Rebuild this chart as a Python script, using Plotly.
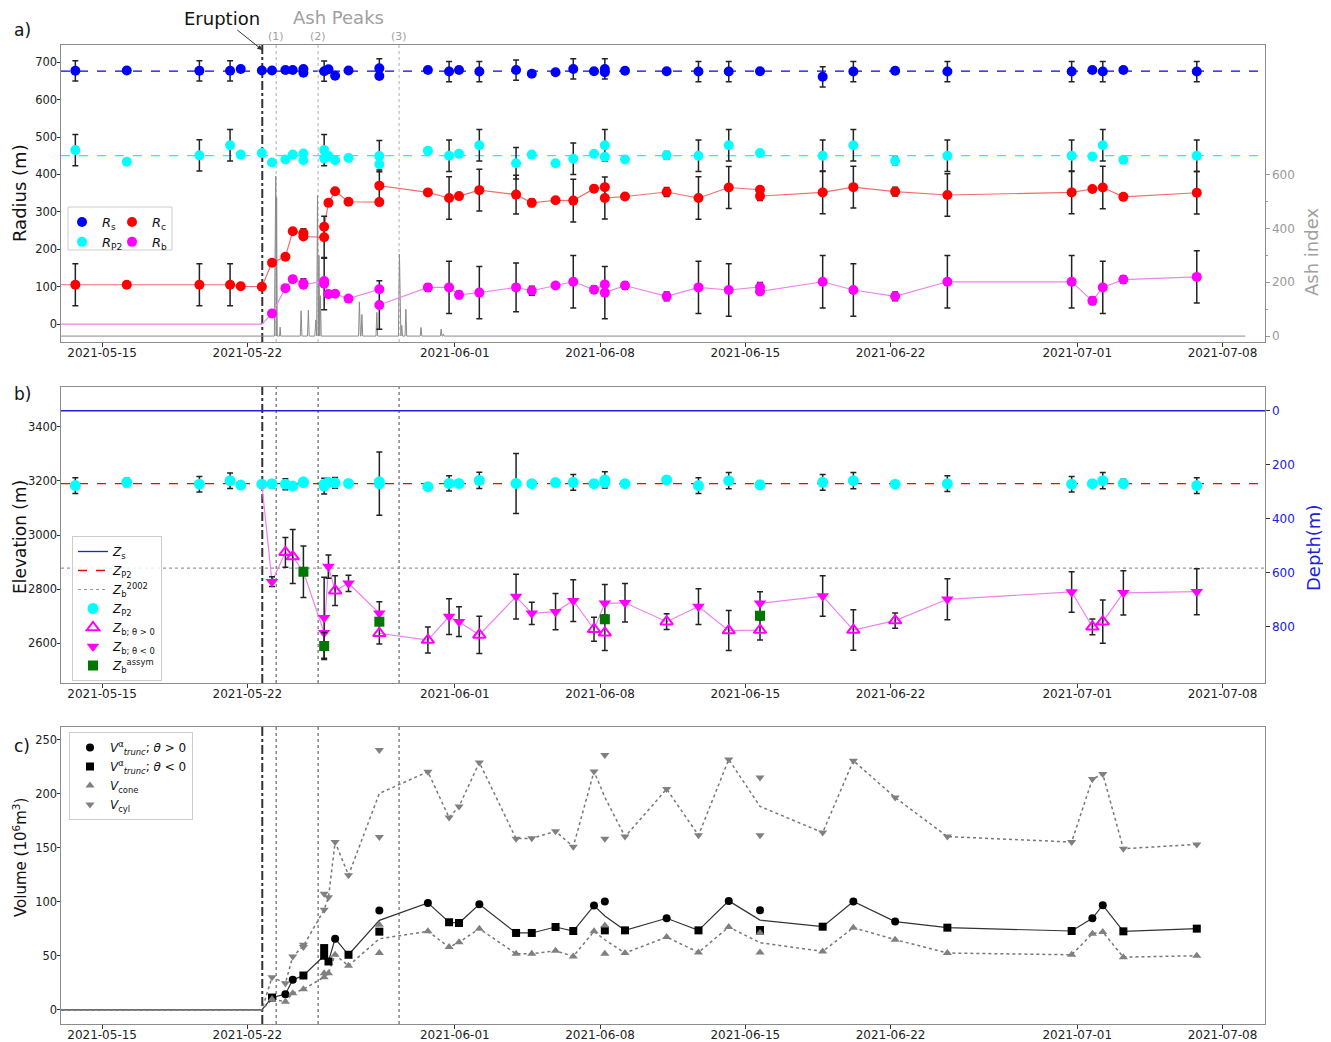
import plotly.graph_objects as go

def T(lst):
    return ["2021-" + s for s in lst]

# ---------------- axes / events ----------------
X_RANGE = ["2021-05-13 00:25", "2021-07-10 01:10"]
X_TICKS = ["2021-05-15", "2021-05-22", "2021-06-01", "2021-06-08",
           "2021-06-15", "2021-06-22", "2021-07-01", "2021-07-08"]
ERUPTION = "2021-05-22 17:15"
ASH_PEAKS = ["2021-05-23 09:20", "2021-05-25 09:50", "2021-05-29 07:30"]
ASH_PEAK_LABELS = ["(1)", "(2)", "(3)"]

# ---------------- panel a ----------------
Rs_mean = 676
Rp2_mean = 450

Rs_t = ["05-13 17:00","05-16 04:30","05-19 16:30","05-21 04:00","05-21 16:20","05-22 16:45","05-23 04:30","05-23 20:00","05-24 04:30","05-24 16:50","05-24 16:50","05-25 16:50","05-25 21:50","05-26 05:30","05-26 21:00","05-28 08:40","05-28 08:40","05-30 16:50","05-31 17:20","06-01 04:50","06-02 04:20","06-03 22:50","06-04 17:00","06-05 20:30","06-06 17:00","06-07 17:00","06-08 05:30","06-08 05:30","06-09 04:50","06-11 05:00","06-12 17:50","06-14 04:50","06-15 17:00","06-18 17:30","06-20 05:00","06-22 05:20","06-24 17:45","06-30 17:30","07-01 17:30","07-02 05:30","07-03 05:20","07-06 18:15"]
Rs_v = [677,678,677,677,682,678,678,679,679,682,672,676,681,664,678,684,663,679,675,679,675,679,669,673,682,676,682,673,677,676,675,675,676,661,675,677,675,675,679,675,679,675]
Rs_e = [27,0,27,27,0,0,0,0,0,0,0,27,0,0,0,25,0,0,27,0,27,27,0,0,27,0,27,0,0,0,27,27,0,27,27,0,27,27,0,27,0,27]

Rp2_t = ["05-13 17:00","05-16 04:30","05-19 16:30","05-21 04:00","05-21 16:20","05-22 16:45","05-23 04:30","05-23 20:00","05-24 04:30","05-24 16:50","05-24 16:50","05-25 16:50","05-25 16:50","05-25 21:50","05-26 05:30","05-26 21:00","05-28 08:40","05-28 08:40","05-30 16:50","05-31 17:20","06-01 04:50","06-02 04:20","06-03 22:50","06-04 17:00","06-05 20:30","06-06 17:00","06-07 17:00","06-08 05:30","06-08 05:30","06-09 04:50","06-11 05:00","06-12 17:50","06-14 04:50","06-15 17:00","06-18 17:30","06-20 05:00","06-22 05:20","06-24 17:45","06-30 17:30","07-01 17:30","07-02 05:30","07-03 05:20","07-06 18:15"]
Rp2_v = [465,434,451,478,453,457,432,440,453,456,438,465,443,449,438,444,449,427,463,450,455,478,430,453,430,442,455,478,447,440,451,450,478,457,450,478,436,450,450,448,478,439,450]
Rp2_e = [42,0,42,42,0,0,0,0,0,0,0,42,0,0,0,0,42,0,0,42,0,42,42,0,0,42,0,42,0,0,10,42,42,8,42,42,10,42,42,0,42,0,42]

Rc_t = ["05-08 17:00","05-13 17:00","05-16 04:30","05-19 16:30","05-21 04:00","05-21 16:20","05-22 16:45","05-23 04:30","05-23 20:00","05-24 04:30","05-24 16:50","05-24 16:50","05-25 16:50","05-25 16:50","05-25 21:50","05-26 05:30","05-26 21:00","05-28 08:40","05-28 08:40","05-30 16:50","05-31 17:20","06-01 04:50","06-02 04:20","06-03 22:50","06-04 17:00","06-05 20:30","06-06 17:00","06-07 17:00","06-08 05:30","06-08 05:30","06-09 04:50","06-11 05:00","06-12 17:50","06-14 04:50","06-15 17:00","06-15 17:00","06-18 17:30","06-20 05:00","06-22 05:20","06-24 17:45","06-30 17:30","07-01 17:30","07-02 05:30","07-03 05:20","07-06 18:15"]
Rc_v = [105,105,105,105,105,101,100,164,180,248,243,234,232,260,324,355,327,326,370,352,337,342,358,346,324,331,330,362,366,337,341,353,337,365,359,342,352,366,354,345,352,361,365,340,351]
Rc_e = [56,56,0,56,56,0,0,0,0,0,12,0,56,0,0,0,0,0,42,0,57,0,56,52,10,0,57,0,0,56,0,12,57,56,0,12,57,56,12,57,57,0,57,0,57]

Rb_pre_t = ["05-08 17:00","05-22 16:45","05-23 04:30"]
Rb_pre_v = [0,0,28]
Rb_t = ["05-23 04:30","05-23 20:00","05-24 04:30","05-24 16:50","05-24 16:50","05-25 16:50","05-25 16:50","05-25 21:50","05-26 05:30","05-26 21:00","05-28 08:40","05-28 08:40","05-30 16:50","05-31 17:20","06-01 04:50","06-02 04:20","06-03 22:50","06-04 17:00","06-05 20:30","06-06 17:00","06-07 17:00","06-08 05:30","06-08 05:30","06-09 04:50","06-11 05:00","06-12 17:50","06-14 04:50","06-15 17:00","06-15 17:00","06-18 17:30","06-20 05:00","06-22 05:20","06-24 17:45","06-30 17:30","07-01 17:30","07-02 05:30","07-03 05:20","07-06 18:15"]
Rb_v = [28,96,120,109,105,115,108,80,81,68,93,51,98,98,78,84,98,89,103,113,92,106,84,103,74,98,91,99,87,113,91,74,113,113,62,98,119,126]
Rb_e = [8,0,0,12,0,0,70,0,0,0,0,65,10,70,10,70,65,12,0,70,10,0,70,10,12,70,70,12,0,70,70,12,70,70,10,70,10,70]

ash_t = ["05-08 00:00","05-23 07:12","05-23 08:53","05-23 09:22","05-23 09:50","05-23 10:34","05-23 13:12","05-23 13:55","05-23 14:38","05-24 13:12","05-24 14:10","05-24 15:07","05-24 21:36","05-24 22:34","05-24 23:31","05-25 06:00","05-25 07:12","05-25 08:10","05-25 09:07","05-25 10:05","05-25 10:48","05-25 11:46","05-25 12:29","05-25 13:26","05-27 08:38","05-27 09:36","05-27 10:48","05-27 11:31","05-27 12:29","05-27 13:26","05-28 04:48","05-28 05:46","05-28 06:43","05-29 06:43","05-29 07:55","05-29 09:07","05-29 09:36","05-29 10:34","05-29 11:31","05-29 14:24","05-29 15:22","05-29 16:19","05-30 07:55","05-30 08:53","05-30 09:50","05-31 07:12","05-31 08:10","05-31 09:07","05-31 10:05","05-31 10:48","05-31 11:46","07-09 02:24"]
ash_v = [0,0,594,0,515,0,0,33,0,0,94,0,0,96,0,0,60,0,522,0,300,0,150,0,0,127,0,0,80,0,0,88,0,0,304,0,0,40,0,0,100,0,0,32,0,0,26,0,0,8,0,0]

# ---------------- panel b ----------------
Zs = 3460
Zp2_ref = 3190
Zb2002 = 2877

Zp2_t = Rp2_t
Zp2_v = [3183,3195,3188,3201,3185,3188,3190,3188,3181,3194,3197,3181,3188,3195,3193,3191,3190,3197,3179,3191,3191,3202,3191,3190,3194,3195,3190,3204,3194,3190,3204,3183,3201,3186,3195,3201,3188,3190,3188,3190,3201,3191,3183]
Zp2_e = [29,15,29,29,0,0,15,20,0,12,0,29,0,0,20,0,117,0,0,28,12,30,111,12,0,29,0,30,0,12,0,29,30,10,29,30,0,29,29,0,30,15,29]

ZbPos_t = ["05-23 20:00","05-24 04:30","05-26 05:30","05-28 08:40","05-30 16:50","06-02 04:20","06-07 17:00","06-08 05:30","06-11 05:00","06-14 04:50","06-15 17:00","06-20 05:00","06-22 05:20","07-01 17:30","07-02 05:30"]
ZbPos_v = [2936,2920,2794,2636,2611,2630,2651,2638,2679,2646,2648,2648,2683,2660,2679]
ZbPos_e = [55,100,55,40,48,69,44,66,29,74,37,75,28,29,80]

ZbNeg_t = ["05-23 04:30","05-25 16:50","05-25 16:50","05-25 21:50","05-26 21:00","05-28 08:40","05-31 17:20","06-01 04:50","06-03 22:50","06-04 17:00","06-05 20:30","06-06 17:00","06-08 05:30","06-09 04:50","06-12 17:50","06-15 17:00","06-18 17:30","06-24 17:45","06-30 17:30","07-03 05:20","07-06 18:15"]
ZbNeg_v = [2827,2694,2638,2883,2821,2710,2698,2679,2772,2710,2716,2757,2747,2749,2735,2747,2774,2762,2789,2786,2790]
ZbNeg_e = [18,150,0,43,30,43,66,55,83,41,67,77,70,71,66,43,75,76,75,82,85]

ZbAs_t = ["05-24 16:50","05-25 16:50","05-28 08:40","06-08 05:30","06-15 17:00"]
ZbAs_v = [2864,2589,2679,2688,2701]
ZbAs_e = [95,50,0,0,0]

Zb_line_t = ["05-22 16:45","05-23 04:30","05-23 20:00","05-24 04:30","05-24 16:50","05-25 16:50","05-25 21:50","05-26 05:30","05-26 21:00","05-28 08:40","05-28 08:40","05-30 16:50","05-31 17:20","06-01 04:50","06-02 04:20","06-03 22:50","06-04 17:00","06-05 20:30","06-06 17:00","06-07 17:00","06-08 05:30","06-09 04:50","06-11 05:00","06-12 17:50","06-14 04:50","06-15 17:00","06-15 17:00","06-18 17:30","06-20 05:00","06-22 05:20","06-24 17:45","06-30 17:30","07-01 17:30","07-02 05:30","07-03 05:20","07-06 18:15"]
Zb_line_v = [3188,2827,2936,2920,2864,2638,2883,2794,2821,2710,2636,2611,2698,2679,2630,2772,2710,2716,2757,2651,2747,2749,2679,2735,2646,2648,2747,2774,2648,2683,2762,2789,2660,2679,2786,2790]

# ---------------- panel c ----------------
VtP_t = ["05-23 20:00","05-24 04:30","05-26 05:30","05-28 08:40","05-30 16:50","06-02 04:20","06-07 17:00","06-08 05:30","06-11 05:00","06-14 04:50","06-15 17:00","06-20 05:00","06-22 05:20","07-01 17:30","07-02 05:30"]
VtP_v = [14.6,27.9,66,92,99.1,97.9,96.7,100.4,84.9,101,92.3,100.4,81.8,84.9,97]
VtN_t = ["05-23 04:30","05-24 16:50","05-25 16:50","05-25 16:50","05-25 21:50","05-26 21:00","05-28 08:40","05-31 17:20","06-01 04:50","06-03 22:50","06-04 17:00","06-05 20:30","06-06 17:00","06-08 05:30","06-09 04:50","06-12 17:50","06-15 17:00","06-18 17:30","06-24 17:45","06-30 17:30","07-03 05:20","07-06 18:15"]
VtN_v = [11.5,31.9,57.3,50.2,44.9,51.1,72.5,81.2,80.5,71.3,71.3,76.8,73.1,73.7,73.7,73.7,74,77.1,76.2,73.1,72.8,75.3]

Vcone_t = ["05-23 04:30","05-23 20:00","05-24 04:30","05-24 16:50","05-25 16:50","05-25 16:50","05-25 21:50","05-26 05:30","05-26 21:00","05-28 08:40","05-28 08:40","05-30 16:50","05-31 17:20","06-01 04:50","06-02 04:20","06-03 22:50","06-04 17:00","06-05 20:30","06-06 17:00","06-07 17:00","06-08 05:30","06-08 05:30","06-09 04:50","06-11 05:00","06-12 17:50","06-14 04:50","06-15 17:00","06-15 17:00","06-18 17:30","06-20 05:00","06-22 05:20","06-24 17:45","06-30 17:30","07-01 17:30","07-02 05:30","07-03 05:20","07-06 18:15"]
Vcone_v = [9.9,7.7,15.5,19.2,30.4,34.1,34.1,51.1,40.9,79,52.7,72.8,58.2,62.6,75.3,52,52,54.8,49.6,72.8,78.1,52,52.7,67.5,53.3,76.8,71.3,53.3,54.2,76.2,65.1,52.7,51.1,70.6,72.2,48.9,50.2]
Vcyl_t = ["05-23 04:30","05-23 20:00","05-24 04:30","05-24 16:50","05-24 16:50","05-25 16:50","05-25 16:50","05-25 21:50","05-26 05:30","05-26 21:00","05-28 08:40","05-28 08:40","05-30 16:50","05-31 17:20","06-01 04:50","06-02 04:20","06-03 22:50","06-04 17:00","06-05 20:30","06-06 17:00","06-07 17:00","06-08 05:30","06-08 05:30","06-09 04:50","06-11 05:00","06-12 17:50","06-14 04:50","06-15 17:00","06-15 17:00","06-18 17:30","06-20 05:00","06-22 05:20","06-24 17:45","06-30 17:30","07-01 17:30","07-02 05:30","07-03 05:20","07-06 18:15"]
Vcyl_v = [30.4,24.8,49.6,60.4,58.2,107.5,92.9,104.4,155.5,124.8,240.7,160.2,220.6,178.1,188.4,229.2,158.6,158.9,165.4,151.2,220.9,236,158.6,160.5,204.5,161.7,232,215.3,161.7,164.2,230.8,196.7,160.5,155.5,213.8,218.4,149.3,153.3]

Vline_t = ["05-08 17:00","05-22 16:45","05-23 04:30","05-23 20:00","05-24 04:30","05-24 16:50","05-25 16:50","05-25 21:50","05-26 05:30","05-26 21:00","05-28 08:40","05-30 16:50","05-31 17:20","06-01 04:50","06-02 04:20","06-03 22:50","06-04 17:00","06-05 20:30","06-06 17:00","06-07 17:00","06-08 05:30","06-09 04:50","06-11 05:00","06-12 17:50","06-14 04:50","06-15 17:00","06-18 17:30","06-20 05:00","06-22 05:20","06-24 17:45","06-30 17:30","07-01 17:30","07-02 05:30","07-03 05:20","07-06 18:15"]
Vt_line = [0,0,11.5,14.6,27.9,31.9,50.2,44.9,66,51.1,83,99.1,81.2,80.5,97.9,71.3,71.3,76.8,73.1,96.7,87,73.7,84.9,73.7,101,83.2,77.1,100.4,81.8,76.2,73.1,84.9,97,72.8,75.3]
Vcone_line = [0,0,9.9,7.7,15.5,19.2,30.4,34.1,51.1,40.9,65.9,72.8,58.2,62.6,75.3,52,52,54.8,49.6,72.8,65,52.7,67.5,53.3,76.8,62.3,54.2,76.2,65.1,52.7,51.1,70.6,72.2,48.9,50.2]
Vcyl_line = [0,0,30.4,24.8,49.6,59.3,92.9,104.4,155.5,124.8,200.5,220.6,178.1,188.4,229.2,158.6,158.9,165.4,151.2,220.9,197,160.5,204.5,161.7,232,188.5,164.2,230.8,196.7,160.5,155.5,213.8,218.4,149.3,153.3]

# ---------------- styling helpers ----------------
FONT = "DejaVu Sans"
ERRC = "#222222"

def err(arr):
    return dict(type="data", array=arr, color=ERRC, thickness=1.5, width=3)

fig = go.Figure()

# panel a: ash index (base axis y, right side)
fig.add_trace(go.Scatter(x=T(ash_t), y=ash_v, mode="lines", line=dict(color="#8a8a8a", width=1),
                         xaxis="x", yaxis="y", showlegend=False, hoverinfo="skip"))
# panel a: connecting lines
fig.add_trace(go.Scatter(x=T(Rb_pre_t), y=Rb_pre_v, mode="lines", line=dict(color="#ee82ee", width=1.2),
                         xaxis="x", yaxis="y2", showlegend=False, hoverinfo="skip"))
fig.add_trace(go.Scatter(x=T(Rc_t), y=Rc_v, mode="lines", line=dict(color="rgba(240,60,60,0.75)", width=1.2),
                         xaxis="x", yaxis="y2", showlegend=False, hoverinfo="skip"))
fig.add_trace(go.Scatter(x=T(Rb_t), y=Rb_v, mode="lines", line=dict(color="#ee82ee", width=1.2),
                         xaxis="x", yaxis="y2", showlegend=False, hoverinfo="skip"))
# panel a: radius markers (y2, left side)
fig.add_trace(go.Scatter(x=T(Rs_t), y=Rs_v, error_y=err(Rs_e), mode="markers",
                         marker=dict(color="#0000ff", size=10), name="<i>R</i><sub>s</sub>",
                         xaxis="x", yaxis="y2", legend="legend"))
fig.add_trace(go.Scatter(x=T(Rp2_t), y=Rp2_v, error_y=err(Rp2_e), mode="markers",
                         marker=dict(color="#00ffff", size=10), name="<i>R</i><sub>P2</sub>",
                         xaxis="x", yaxis="y2", legend="legend"))
fig.add_trace(go.Scatter(x=T(Rc_t), y=Rc_v, error_y=err(Rc_e), mode="markers",
                         marker=dict(color="#ff0000", size=10), name="<i>R</i><sub>c</sub>",
                         xaxis="x", yaxis="y2", legend="legend2"))
fig.add_trace(go.Scatter(x=T(Rb_t), y=Rb_v, error_y=err(Rb_e), mode="markers",
                         marker=dict(color="#ff00ff", size=10), name="<i>R</i><sub>b</sub>",
                         xaxis="x", yaxis="y2", legend="legend2"))

# panel b
fig.add_trace(go.Scatter(x=X_RANGE, y=[Zs, Zs], mode="lines", line=dict(color="#2020dd", width=1.3),
                         name="<i>Z</i><sub>s</sub>", xaxis="x2", yaxis="y3", legend="legend3"))
fig.add_trace(go.Scatter(x=X_RANGE, y=[Zp2_ref, Zp2_ref], mode="lines",
                         line=dict(color="#ff0000", width=1.3, dash="dash"),
                         name="<i>Z</i><sub>P2</sub>", xaxis="x2", yaxis="y3", legend="legend3"))
fig.add_trace(go.Scatter(x=X_RANGE, y=[Zb2002, Zb2002], mode="lines",
                         line=dict(color="#999999", width=1.2, dash="dot"),
                         name="<i>Z</i><sub>b</sub><sup>2002</sup>", xaxis="x2", yaxis="y3", legend="legend3"))
fig.add_trace(go.Scatter(x=T(Zp2_t), y=Zp2_v, error_y=err(Zp2_e), mode="markers",
                         marker=dict(color="#00ffff", size=11), name="<i>Z</i><sub>P2</sub>",
                         xaxis="x2", yaxis="y3", legend="legend3"))
fig.add_trace(go.Scatter(x=T(Zb_line_t), y=Zb_line_v, mode="lines", line=dict(color="#ee82ee", width=1.2),
                         xaxis="x2", yaxis="y3", showlegend=False, hoverinfo="skip"))
fig.add_trace(go.Scatter(x=T(ZbPos_t), y=ZbPos_v, error_y=err(ZbPos_e), mode="markers",
                         marker=dict(symbol="triangle-up-open", color="#ff00ff", size=11, line=dict(width=2)),
                         name="<i>Z</i><sub>b; θ &gt; 0</sub>", xaxis="x2", yaxis="y3", legend="legend3"))
fig.add_trace(go.Scatter(x=T(ZbNeg_t), y=ZbNeg_v, error_y=err(ZbNeg_e), mode="markers",
                         marker=dict(symbol="triangle-down", color="#ff00ff", size=11),
                         name="<i>Z</i><sub>b; θ &lt; 0</sub>", xaxis="x2", yaxis="y3", legend="legend3"))
fig.add_trace(go.Scatter(x=T(ZbAs_t), y=ZbAs_v, error_y=err(ZbAs_e), mode="markers",
                         marker=dict(symbol="square", color="#007700", size=10),
                         name="<i>Z</i><sub>b</sub><sup>assym</sup>", xaxis="x2", yaxis="y3", legend="legend3"))
# depth axis carrier (invisible)
fig.add_trace(go.Scatter(x=X_RANGE, y=[Zs - Zs, Zs - Zs], mode="lines", line=dict(width=0),
                         opacity=0, xaxis="x2", yaxis="y4", showlegend=False, hoverinfo="skip"))

# panel c
fig.add_trace(go.Scatter(x=T(Vline_t), y=Vt_line, mode="lines", line=dict(color="#333333", width=1.2),
                         xaxis="x3", yaxis="y5", showlegend=False, hoverinfo="skip"))
fig.add_trace(go.Scatter(x=T(Vline_t), y=Vcone_line, mode="lines", line=dict(color="#777777", width=1.5, dash="dot"),
                         xaxis="x3", yaxis="y5", showlegend=False, hoverinfo="skip"))
fig.add_trace(go.Scatter(x=T(Vline_t), y=Vcyl_line, mode="lines", line=dict(color="#777777", width=1.5, dash="dot"),
                         xaxis="x3", yaxis="y5", showlegend=False, hoverinfo="skip"))
fig.add_trace(go.Scatter(x=T(VtP_t), y=VtP_v, mode="markers", marker=dict(symbol="circle", color="#000000", size=8),
                         name="<i>V</i><sup>α</sup><sub><i>trunc</i></sub>; <i>θ</i> &gt; 0",
                         xaxis="x3", yaxis="y5", legend="legend4"))
fig.add_trace(go.Scatter(x=T(VtN_t), y=VtN_v, mode="markers", marker=dict(symbol="square", color="#000000", size=8),
                         name="<i>V</i><sup>α</sup><sub><i>trunc</i></sub>; <i>θ</i> &lt; 0",
                         xaxis="x3", yaxis="y5", legend="legend4"))
fig.add_trace(go.Scatter(x=T(Vcone_t), y=Vcone_v, mode="markers", marker=dict(symbol="triangle-up", color="#808080", size=8),
                         name="<i>V</i><sub>cone</sub>", xaxis="x3", yaxis="y5", legend="legend4"))
fig.add_trace(go.Scatter(x=T(Vcyl_t), y=Vcyl_v, mode="markers", marker=dict(symbol="triangle-down", color="#808080", size=8),
                         name="<i>V</i><sub>cyl</sub>", xaxis="x3", yaxis="y5", legend="legend4"))

# ---------------- layout ----------------
OFF = 8                      # default page margin of the html body
W, H = 1331 - OFF, 1042 - OFF
L, TOP = 61 - OFF, 45 - OFF
PW, PH = 1204, 979
R, BOT = W - L - PW, H - TOP - PH

def px(x):          # page pixel -> paper fraction
    return (x - OFF - L) / PW

def py(y):
    return (H - BOT - (y - OFF)) / PH

FRAME = "#8c8c8c"
xcommon = dict(type="date", range=X_RANGE, tickvals=X_TICKS, ticktext=X_TICKS,
               ticks="outside", ticklen=3.5, tickcolor="#333", showline=True, mirror=True,
               linecolor=FRAME, linewidth=1, showgrid=False, zeroline=False, automargin=False,
               ticklabelstandoff=-4, tickfont=dict(size=12, color="#222"))
ycommon = dict(ticks="outside", ticklen=3.5, tickcolor="#333", showline=True, mirror=True,
               linecolor=FRAME, linewidth=1, showgrid=False, zeroline=False, automargin=False,
               ticklabelstandoff=-3, tickfont=dict(size=11.5, color="#222"))

dom_a = [py(342), py(45)]
dom_b = [py(683), py(387)]
dom_c = [py(1024), py(727)]

fig.update_layout(
    width=W, height=H, autosize=False, margin=dict(l=L, r=R, t=TOP, b=BOT, pad=0),
    paper_bgcolor="white", plot_bgcolor="white",
    font=dict(family=FONT, size=12, color="#222"),
    xaxis=dict(xcommon, anchor="y", domain=[0, 1]),
    xaxis2=dict(xcommon, anchor="y3", domain=[0, 1]),
    xaxis3=dict(xcommon, anchor="y5", domain=[0, 1]),
    yaxis=dict(domain=dom_a, anchor="x", side="right", range=[-22, 1081], automargin=False,
               tickvals=[0, 200, 400, 600], ticks="outside", ticklen=3.5, tickcolor="#999",
               tickfont=dict(size=12, color="#999"), showline=True, mirror=True,
               linecolor=FRAME, showgrid=False, zeroline=False,
               minor=dict(tickvals=[100, 300, 500], ticks="outside", ticklen=2, tickcolor="#999")),
    yaxis2=dict(ycommon, overlaying="y", anchor="x", side="left", range=[-48, 746],
                tickvals=[0, 100, 200, 300, 400, 500, 600, 700], mirror=False, showline=False),
    yaxis3=dict(ycommon, domain=dom_b, anchor="x2", range=[2452, 3548],
                tickvals=[2600, 2800, 3000, 3200, 3400]),
    yaxis4=dict(overlaying="y3", anchor="x2", side="right", range=[1008, -88], automargin=False,
                tickvals=[0, 200, 400, 600, 800], ticks="outside", ticklen=3.5, tickcolor="#333",
                tickfont=dict(size=12, color="#2020dd"), showgrid=False, zeroline=False, showline=False),
    yaxis5=dict(ycommon, domain=dom_c, anchor="x3", range=[-13, 262],
                tickvals=[0, 50, 100, 150, 200, 250]),
    legend=dict(x=px(62), y=py(207), xanchor="left", yanchor="top", bgcolor="rgba(0,0,0,0)",
                font=dict(size=13, color="#111"), itemwidth=30, tracegroupgap=0),
    legend2=dict(x=px(112), y=py(207), xanchor="left", yanchor="top", bgcolor="rgba(0,0,0,0)",
                 font=dict(size=13, color="#111"), itemwidth=30, tracegroupgap=0),
    legend3=dict(x=px(72), y=py(681), xanchor="left", yanchor="bottom", bgcolor="rgba(255,255,255,0.85)",
                 bordercolor="#cccccc", borderwidth=1, font=dict(size=12, color="#111"),
                 itemwidth=30, tracegroupgap=0),
    legend4=dict(x=px(69), y=py(732), xanchor="left", yanchor="top", bgcolor="rgba(255,255,255,0.85)",
                 bordercolor="#cccccc", borderwidth=1, font=dict(size=12, color="#111"),
                 itemwidth=30, tracegroupgap=0),
)

shapes = []
# legend frame for panel a (two legend columns)
shapes.append(dict(type="rect", xref="paper", yref="paper", x0=px(68), x1=px(172), y0=py(250), y1=py(207),
                   line=dict(color="#cccccc", width=1), fillcolor="rgba(255,255,255,0.8)", layer="above"))
# reference lines in panel a
shapes.append(dict(type="line", xref="x domain", yref="y2", x0=0, x1=1, y0=Rs_mean, y1=Rs_mean,
                   line=dict(color="#0000ff", width=1.2, dash="dash"), layer="below"))
shapes.append(dict(type="line", xref="x domain", yref="y2", x0=0, x1=1, y0=Rp2_mean, y1=Rp2_mean,
                   line=dict(color="#00ffff", width=1.3, dash="dash"), layer="below"))
# event lines
for xr, yr, pc in [("x", "y domain", "#bbbbbb"), ("x2", "y3 domain", "#666666"), ("x3", "y5 domain", "#666666")]:
    shapes.append(dict(type="line", xref=xr, yref=yr, x0=ERUPTION, x1=ERUPTION, y0=0, y1=1,
                       line=dict(color="#333333", width=2, dash="dashdot"), layer="below"))
    for pk in ASH_PEAKS:
        shapes.append(dict(type="line", xref=xr, yref=yr, x0=pk, x1=pk, y0=0, y1=1,
                           line=dict(color=pc, width=1.2, dash="dot"), layer="below"))
fig.update_layout(shapes=shapes)

def txt(text, x, y, size, color, angle=0, xref="paper"):
    return dict(text=text, x=x, y=y, xref=xref, yref="paper", showarrow=False, textangle=angle,
                xanchor="center", yanchor="middle", font=dict(size=size, color=color))

ann = []
ann.append(dict(text="Eruption", x=ERUPTION, xref="x", y=py(50), yref="paper", showarrow=True,
                ax=-40, ay=-32, arrowhead=2, arrowsize=1, arrowwidth=1, arrowcolor="#333",
                font=dict(size=18, color="#111")))
ann.append(txt("Ash Peaks", px(338), py(18), 18, "#a0a0a0"))
for pk, lab in zip(ASH_PEAKS, ASH_PEAK_LABELS):
    ann.append(txt(lab, pk, py(37), 11, "#a0a0a0", xref="x"))
for lab, yy in [("a)", 30), ("b)", 394), ("c)", 746)]:
    ann.append(txt(lab, px(22), py(yy), 17, "#111"))
ann.append(txt("Radius (m)", px(20), py(193), 18, "#111", -90))
ann.append(txt("Elevation (m)", px(20), py(537), 17, "#111", -90))
ann.append(txt("Volume (10<sup>6</sup>m<sup>3</sup>)", px(20), py(858), 15, "#111", -90))
ann.append(txt("Ash index", px(1311), py(252), 18, "#a0a0a0", -90))
ann.append(txt("Depth(m)", px(1313), py(548), 18, "#2020dd", -90))
fig.update_layout(annotations=ann)

fig.write_html("out.html")
